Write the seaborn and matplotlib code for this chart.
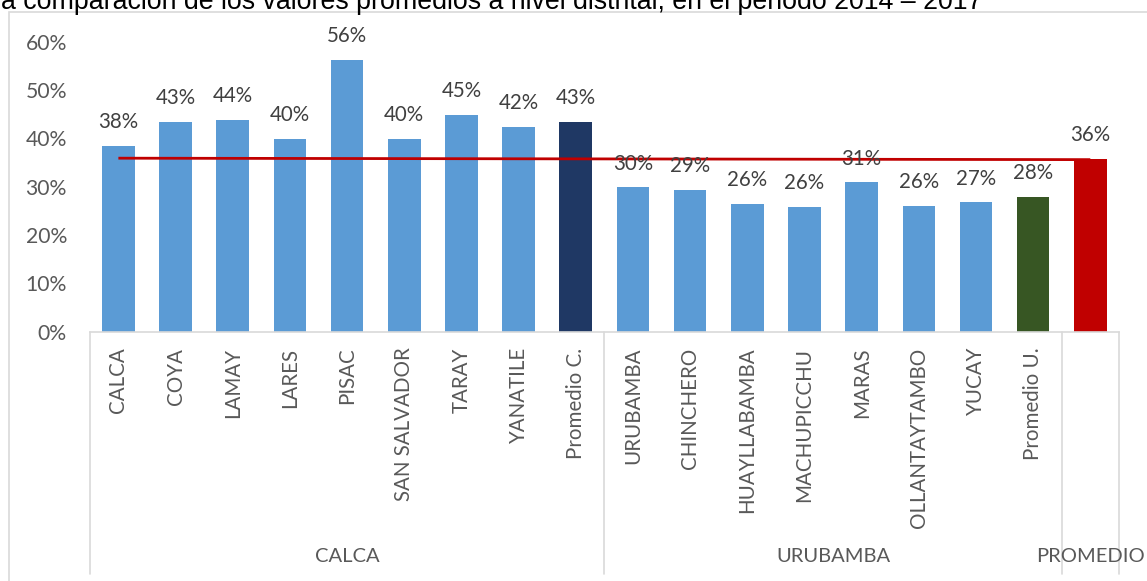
import matplotlib
matplotlib.use("Agg")
import matplotlib.pyplot as plt
import matplotlib.transforms as mtransforms
from matplotlib.ticker import PercentFormatter
import seaborn as sns
import pandas as pd

# Districts and their averages (fraction of 1)
districts = ["CALCA", "COYA", "LAMAY", "LARES", "PISAC", "SAN SALVADOR", "TARAY",
             "YANATILE", "Promedio C.",
             "URUBAMBA", "CHINCHERO", "HUAYLLABAMBA", "MACHUPICCHU", "MARAS",
             "OLLANTAYTAMBO", "YUCAY", "Promedio U.",
             ""]
values = [0.384, 0.434, 0.438, 0.399, 0.562, 0.399, 0.449, 0.424, 0.434,
          0.299, 0.294, 0.264, 0.258, 0.309, 0.261, 0.268, 0.279,
          0.358]
provinces = ["CALCA", "URUBAMBA", "PROMEDIO"]
province_sizes = [9, 8, 1]
avg_line = [0.359, 0.356]
yticks = [0.0, 0.1, 0.2, 0.3, 0.4, 0.5, 0.6]
title = "a comparación de los valores promedios a nivel distrital, en el periodo 2014 – 2017"

BLUE, NAVY, GREEN, RED = "#5B9BD5", "#1F3864", "#375623", "#C00000"
colors = [BLUE] * 8 + [NAVY] + [BLUE] * 7 + [GREEN] + [RED]
GRID = "#D9D9D9"

sns.set_style("white")
plt.rcParams["font.family"] = ["Lato", "DejaVu Sans"]

W, H = 1147, 581
fig = plt.figure(figsize=(W / 100, H / 100), dpi=100)
x0, x1, y0, y1 = 89.8, 1118.9, 41.7, 331.7
ax = fig.add_axes([x0 / W, 1 - y1 / H, (x1 - x0) / W, (y1 - y0) / H])

keys = [f"{i}" for i in range(len(districts))]
df = pd.DataFrame({"key": keys, "value": values})
sns.barplot(data=df, x="key", y="value", hue="key", palette=dict(zip(keys, colors)),
            order=keys, width=0.57, legend=False, saturation=1, linewidth=0, ax=ax)

# overall average line
ax.plot([0, len(districts) - 1], avg_line, color=RED, lw=2.0, solid_capstyle="butt", zorder=3)

# value labels
for i, v in enumerate(values):
    ax.annotate(f"{v * 100:.0f}%", (i, v), xytext=(0, 12.7), textcoords="offset points",
                ha="center", va="baseline", fontsize=14.8, color="#404040")

ax.set_xlim(-0.5, len(districts) - 0.5)
ax.set_ylim(0, 0.6)
ax.set_yticks(yticks)
ax.yaxis.set_major_formatter(PercentFormatter(1.0, decimals=0))
ax.set_xticks(range(len(districts)))
ax.set_xticklabels(districts, rotation=90, va="top", ha="center")
ax.tick_params(axis="x", length=0, pad=11.5, labelsize=14.8, labelcolor="#595959")
ax.tick_params(axis="y", length=0, pad=16.5, labelsize=15.2, labelcolor="#595959")
ax.set_xlabel("")
ax.set_ylabel("")
for s in ["left", "top", "right"]:
    ax.spines[s].set_visible(False)
ax.spines["bottom"].set_color(GRID)
ax.spines["bottom"].set_linewidth(1.2)

# province separators and names beneath the district labels
trans = mtransforms.blended_transform_factory(ax.transData, ax.transAxes)
ybottom = (y1 - 574) / (y1 - y0)
ygroup = (y1 - 557) / (y1 - y0)
start = -0.5
edges = [start]
for name, n in zip(provinces, province_sizes):
    ax.text(start + n / 2, ygroup, name, transform=trans, ha="center", va="center",
            fontsize=14.5, color="#595959", clip_on=False)
    start += n
    edges.append(start)
for e in edges:
    ax.plot([e, e], [0, ybottom], transform=trans, color=GRID, lw=1.2, clip_on=False)

# chart frame
fig.patches.append(plt.Rectangle((8.5 / W, -0.1), 1.2, 1 - 11.5 / H + 0.1,
                                 transform=fig.transFigure, fill=False,
                                 edgecolor=GRID, lw=1.2))

# caption running across the top edge
t = fig.text(1 / W, 1 - 9 / H, title, fontsize=16, family=["Liberation Sans", "DejaVu Sans"],
             va="baseline", ha="left", color="black")
fig.canvas.draw()
w = t.get_window_extent().width
t.set_fontsize(16 * 984 / w)

fig.savefig("out.png", dpi=100)
